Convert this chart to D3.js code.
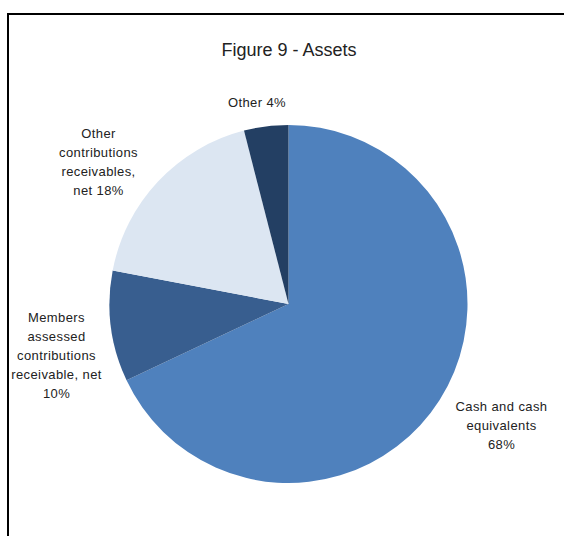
<!DOCTYPE html>
<html>
<head>
<meta charset="utf-8">
<script src="https://cdn.jsdelivr.net/npm/d3@7"></script>
<style>
  html, body { margin: 0; padding: 0; background: #fff; }
  svg { display: block; }
</style>
</head>
<body>
<svg id="chart" width="564" height="536"></svg>
<script>
// ---- data ----
const title = "Figure 9 - Assets";
const categories = [
  "Cash and cash equivalents",
  "Members assessed contributions receivable, net",
  "Other contributions receivables, net",
  "Other"
];
const values = [68, 10, 18, 4];
const labelLines = [
  ["Cash and cash", "equivalents", "68%"],
  ["Members", "assessed", "contributions", "receivable, net", "10%"],
  ["Other", "contributions", "receivables,", "net 18%"],
  ["Other 4%"]
];
const colors = ["#4F81BD", "#385E8F", "#DCE6F2", "#233F63"];

// ---- layout ----
const W = 564, H = 536;
const cx = 288.5, cy = 304, R = 179;
// label centre offsets from pie centre (layout only)
const labelOffsets = [[213, 121], [-232, 51], [-190, -142], [-31.5, -202]];
const lineH = 19;

const svg = d3.select("#chart");

svg.append("rect")
  .attr("x", 8).attr("y", 14)
  .attr("width", 620).attr("height", 620)
  .attr("fill", "#fff")
  .attr("stroke", "#000")
  .attr("stroke-width", 2);

svg.append("text")
  .attr("x", 289).attr("y", 56)
  .attr("text-anchor", "middle")
  .attr("font-family", "Liberation Sans, Arial, sans-serif")
  .attr("font-size", 18)
  .attr("fill", "#222")
  .text(title);

const data = categories.map((c, i) => ({ cat: c, value: values[i], lines: labelLines[i], color: colors[i], off: labelOffsets[i] }));

const pie = d3.pie().sort(null).value(d => d.value).startAngle(0).endAngle(2 * Math.PI);
const arc = d3.arc().innerRadius(0).outerRadius(R);

const g = svg.append("g").attr("transform", `translate(${cx},${cy})`);

g.selectAll("path.slice")
  .data(pie(data))
  .join("path")
  .attr("class", "slice")
  .attr("d", arc)
  .attr("fill", d => d.data.color)
  .attr("stroke", "none");

const labels = g.selectAll("text.lbl")
  .data(pie(data))
  .join("text")
  .attr("class", "lbl")
  .attr("text-anchor", "middle")
  .attr("font-family", "Liberation Sans, Arial, sans-serif")
  .attr("font-size", 13)
  .attr("letter-spacing", 0.4)
  .attr("fill", "#222");

labels.each(function(d) {
  const n = d.data.lines.length;
  const [ox, oy] = d.data.off;
  const t = d3.select(this);
  d.data.lines.forEach((ln, k) => {
    t.append("tspan")
      .attr("x", ox)
      .attr("y", oy + (k - (n - 1) / 2) * lineH)
      .attr("dy", "0.35em")
      .text(ln);
  });
});
</script>
</body>
</html>
